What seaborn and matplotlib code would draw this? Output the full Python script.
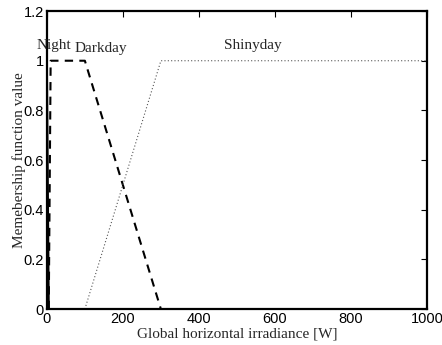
import matplotlib
matplotlib.use("Agg")
import matplotlib.pyplot as plt
import seaborn as sns
import pandas as pd

# Membership function breakpoints (irradiance in W, membership value)
night_x = [0, 0, 5]
night_y = [0, 1, 0]
darkday_x = [5, 10, 100, 300]
darkday_y = [0, 1, 1, 0]
shinyday_x = [100, 300, 1000]
shinyday_y = [0, 1, 1]

x_ticks = [0, 200, 400, 600, 800, 1000]
y_ticks = [0, 0.2, 0.4, 0.6, 0.8, 1, 1.2]
y_tick_labels = ["0", "0.2", "0.4", "0.6", "0.8", "1", "1.2"]

df = pd.concat([
    pd.DataFrame({"x": night_x, "y": night_y, "set": "Night"}),
    pd.DataFrame({"x": darkday_x, "y": darkday_y, "set": "Darkday"}),
    pd.DataFrame({"x": shinyday_x, "y": shinyday_y, "set": "Shinyday"}),
], ignore_index=True)

sns.set_style("white")
plt.rcParams["font.family"] = ["Liberation Sans", "DejaVu Sans"]

fig = plt.figure(figsize=(4.42, 3.45), dpi=100)
ax = fig.add_axes([0.106, 0.104, 0.860, 0.864])

styles = {
    "Night": dict(color="black", linestyle="-", linewidth=1.5),
    "Darkday": dict(color="black", linestyle=(0, (4, 3)), linewidth=1.5),
    "Shinyday": dict(color="#555555", linestyle=(0, (1, 2)), linewidth=0.8),
}
for name, sty in styles.items():
    sub = df[df["set"] == name]
    sns.lineplot(data=sub, x="x", y="y", ax=ax, sort=False, estimator=None,
                 legend=False, **sty)

ax.set_xlim(0, 1000)
ax.set_ylim(0, 1.2)
ax.set_xticks(x_ticks)
ax.set_yticks(y_ticks)
ax.set_yticklabels(y_tick_labels)
ax.tick_params(direction="in", length=4, width=0.8, labelsize=10.5,
               top=True, right=True, pad=2, colors="black")
for s in ax.spines.values():
    s.set_color("black")
    s.set_linewidth(1.6)

serif = ["Liberation Serif", "DejaVu Serif"]
ax.set_xlabel("Global horizontal irradiance [W]", family=serif, fontsize=11,
              labelpad=1)
ax.set_ylabel("Memebership function value", family=serif, fontsize=11,
              labelpad=-2)

ax.text(-27, 1.063, "Night", family=serif, fontsize=11, va="center", ha="left")
ax.text(73, 1.05, "Darkday", family=serif, fontsize=11, va="center", ha="left")
ax.text(467, 1.063, "Shinyday", family=serif, fontsize=11, va="center", ha="left")

fig.savefig("out.png", dpi=100)
